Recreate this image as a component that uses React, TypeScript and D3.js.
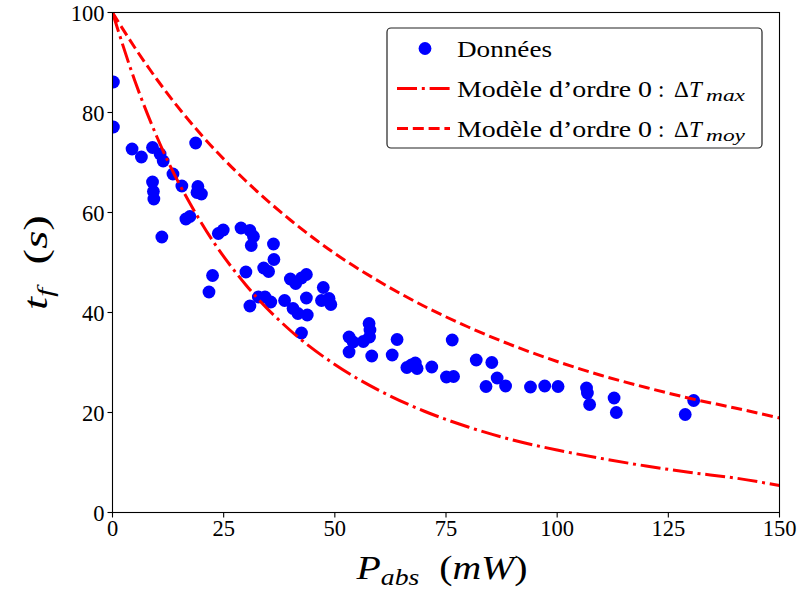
import React from "react";
import * as d3 from "d3";

// ---- data ----
const dataP: number[] = [
  0.2, 0.2, 4.4, 6.5, 9.0, 10.7, 11.4, 13.6, 18.7, 15.6, 9.0, 9.2, 9.3, 19.2, 19.0, 20.0,
  16.5, 17.4, 11.1, 23.8, 24.9, 28.9, 30.9, 31.7, 31.2, 36.2, 36.3, 22.5, 21.7, 30.0,
  34.0, 35.1, 40.0, 41.2, 42.5, 43.6, 47.4, 47.0, 48.7, 49.1, 43.6, 38.7, 40.6, 41.7,
  43.8, 30.9, 32.8, 34.3, 35.6, 42.5, 53.2, 53.2, 54.1, 56.4, 57.7, 57.9, 57.8, 58.3,
  64.0, 62.9, 66.2, 67.2, 68.1, 68.5, 71.8, 76.4, 75.1, 76.7, 81.8, 85.3, 86.5, 84.0,
  88.4, 94.0, 97.2, 100.2, 106.6, 106.8, 107.3, 112.8, 113.3, 128.8, 130.7,
];
const dataT: number[] = [
  86.1, 77.1, 72.7, 71.1, 73.0, 71.7, 70.3, 67.7, 73.9, 65.3, 66.1, 64.2, 62.7, 65.2, 64.0, 63.7,
  58.7, 59.2, 55.1, 55.8, 56.5, 56.9, 56.4, 55.2, 53.4, 53.7, 50.6, 47.4, 44.1, 48.1,
  48.9, 48.2, 46.7, 45.8, 46.9, 47.6, 45.0, 42.4, 42.8, 41.6, 42.9, 42.4, 40.8, 39.8,
  39.5, 41.3, 43.1, 43.1, 42.1, 35.9, 35.1, 32.1, 34.1, 34.2, 37.8, 36.5, 35.1, 31.3,
  34.6, 31.5, 29.0, 29.5, 29.9, 28.8, 29.1, 34.5, 27.1, 27.2, 30.5, 30.0, 26.9, 25.2,
  25.3, 25.1, 25.3, 25.2, 24.9, 23.9, 21.6, 22.9, 20.0, 19.6, 22.4,
];

const modelP: number[] = [0, 5, 10, 20, 30, 40, 50, 60, 70, 80, 90, 100, 110, 120, 130, 140, 150];
const modelMaxT: number[] = [100, 86.4, 75.1, 57.9, 45.5, 36.4, 29.6, 24.4, 20.3, 17.1, 14.5, 12.5, 10.8, 9.3, 8.0, 6.9, 5.4];
const modelMoyT: number[] = [100, 93.0, 86.6, 75.5, 66.3, 58.5, 51.8, 46.2, 41.3, 37.1, 33.4, 30.2, 27.4, 25.0, 22.8, 20.9, 18.9];

const xTicks: number[] = [0, 25, 50, 75, 100, 125, 150];
const yTicks: number[] = [0, 20, 40, 60, 80, 100];

const legendLabels: string[] = ["Données", "Modèle d’ordre 0", "Modèle d’ordre 0"];
const legendSubs: string[] = ["", "max", "moy"];

const W = 799;
const H = 591;
const FONT = "Liberation Serif, DejaVu Serif, serif";
const fs = (size: number, italic = false): React.CSSProperties => ({
  fontFamily: FONT,
  fontSize: size,
  fontStyle: italic ? "italic" : "normal",
});

export default function App() {
  const x = d3.scaleLinear().domain([0, 150]).range([112.5, 779.5]);
  const y = d3.scaleLinear().domain([0, 100]).range([512.5, 12.5]);

  const line = d3
    .line<[number, number]>()
    .x((d) => x(d[0]))
    .y((d) => y(d[1]))
    .curve(d3.curveMonotoneX);

  const maxPath = line(modelP.map((p, i) => [p, modelMaxT[i]] as [number, number])) || "";
  const moyPath = line(modelP.map((p, i) => [p, modelMoyT[i]] as [number, number])) || "";

  const x0 = x(0), x1 = x(150), yTop = y(100), yBot = y(0);
  const red = "#ff0000";
  const blue = "#0000ff";
  const lw = 3;
  const dashed = "11,4.8";
  const dashdot = "20,4.8,3,4.8";

  const legX = 387, legY = 28, legW = 375, legH = 120;
  const rows = [48.5, 88.5, 128.5];

  return (
    <div style={{ position: "fixed", left: 0, top: 0 }}>
      <svg width={W} height={H} style={{ display: "block", background: "#fff", fontFamily: FONT }}>
        <defs>
          <clipPath id="plotclip">
            <rect x={x0} y={yTop} width={x1 - x0} height={yBot - yTop} />
          </clipPath>
        </defs>
        <rect x={0} y={0} width={W} height={H} fill="#fff" />
        <g clipPath="url(#plotclip)">
          {dataP.map((p, i) => (
            <circle key={i} cx={x(p)} cy={y(dataT[i])} r={6.4} fill={blue} />
          ))}
          <path d={maxPath} fill="none" stroke={red} strokeWidth={lw} strokeDasharray={dashdot} />
          <path d={moyPath} fill="none" stroke={red} strokeWidth={lw} strokeDasharray={dashed} />
        </g>
        {/* frame */}
        <rect x={x0} y={yTop} width={x1 - x0} height={yBot - yTop} fill="none" stroke="#000" strokeWidth={1.1} />
        {/* x ticks */}
        {xTicks.map((t) => (
          <g key={"x" + t}>
            <line x1={x(t)} x2={x(t)} y1={yBot} y2={yBot + 5} stroke="#000" strokeWidth={1.1} />
            <text x={x(t)} y={yBot + 23} textAnchor="middle" style={fs(22.5)} fill="#000">
              {t}
            </text>
          </g>
        ))}
        {/* y ticks */}
        {yTicks.map((t) => (
          <g key={"y" + t}>
            <line x1={x0 - 5} x2={x0} y1={y(t)} y2={y(t)} stroke="#000" strokeWidth={1.1} />
            <text x={x0 - 8} y={y(t) + 8} textAnchor="end" style={fs(22.5)} fill="#000">
              {t}
            </text>
          </g>
        ))}
        {/* x label */}
        <text x={(x0 + x1) / 2 - 4} y={579} textAnchor="middle" style={fs(33)} fill="#000"
          textLength={171} lengthAdjust="spacingAndGlyphs">
          <tspan style={fs(33, true)}>P</tspan>
          <tspan style={fs(23, true)} dy={6}>abs</tspan>
          <tspan dy={-6}>{"\u2002("}</tspan>
          <tspan style={fs(33, true)}>mW</tspan>
          <tspan>)</tspan>
        </text>
        {/* y label */}
        <text transform={`translate(47,${(yTop + yBot) / 2}) rotate(-90)`} textAnchor="middle" style={fs(33)} fill="#000"
          textLength={95} lengthAdjust="spacingAndGlyphs">
          <tspan style={fs(33, true)}>t</tspan>
          <tspan style={fs(23, true)} dy={6}>f</tspan>
          <tspan dy={-6}>{"\u2002("}</tspan>
          <tspan style={fs(33, true)}>s</tspan>
          <tspan>)</tspan>
        </text>
        {/* legend */}
        <rect x={legX} y={legY} width={legW} height={legH} rx={4} fill="#fff" fillOpacity={0.9} stroke="#222" strokeWidth={1.2} />
        <circle cx={425} cy={rows[0]} r={6.4} fill={blue} />
        <line x1={397} x2={450} y1={rows[1]} y2={rows[1]} stroke={red} strokeWidth={lw} strokeDasharray={dashdot} />
        <line x1={397} x2={450} y1={rows[2]} y2={rows[2]} stroke={red} strokeWidth={lw} strokeDasharray={dashed} />
        <text x={457} y={rows[0] + 8} style={fs(23)} fill="#000" textLength={95} lengthAdjust="spacingAndGlyphs">
          {legendLabels[0]}
        </text>
        {[1, 2].map((k) => (
          <g key={"leg" + k}>
            <text x={457} y={rows[k] + 8} style={fs(23)} fill="#000" textLength={195} lengthAdjust="spacingAndGlyphs">
              {legendLabels[k]}
            </text>
            <text x={658} y={rows[k] + 8} style={fs(23)} fill="#000">:</text>
            <text x={674} y={rows[k] + 8} style={fs(23)} fill="#000">{"\u0394"}</text>
            <text x={689} y={rows[k] + 8} style={fs(23, true)} fill="#000">T</text>
            <text x={706} y={rows[k] + 12} style={fs(17, true)} fill="#000" textLength={39} lengthAdjust="spacingAndGlyphs">
              {legendSubs[k]}
            </text>
          </g>
        ))}
      </svg>
    </div>
  );
}
